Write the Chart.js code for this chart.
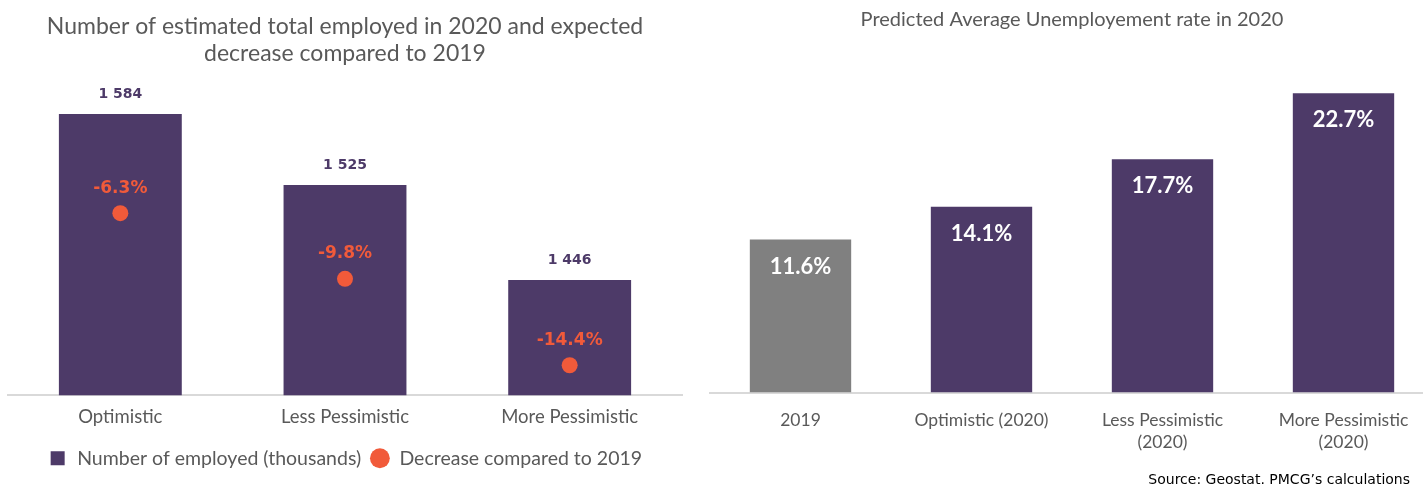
<!DOCTYPE html>
<html>
<head>
<meta charset="utf-8">
<script src="https://cdn.jsdelivr.net/npm/chart.js@4/dist/chart.umd.min.js"></script>
<style>
  html, body { margin: 0; padding: 0; background: #fff; overflow: hidden; width: 1423px; height: 485px; }
  #leftWrap { position: absolute; left: 0; top: 0; width: 700px; height: 485px; }
  #rightWrap { position: absolute; left: 700px; top: 0; width: 740px; height: 485px; }
  #source { position: absolute; right: 13px; top: 471px; font: 14px "DejaVu Sans", sans-serif; color: #000; }
</style>
</head>
<body>
<div id="leftWrap"><canvas id="leftChart" width="700" height="485"></canvas></div>
<div id="rightWrap"><canvas id="rightChart" width="740" height="485"></canvas></div>
<div id="source">Source: Geostat. PMCG’s calculations</div>
<script>
const leftCategories = ['Optimistic', 'Less Pessimistic', 'More Pessimistic'];
const employed = [1584, 1525, 1446];
const decrease = [-6.3, -9.8, -14.4];

const rightCategories = ['2019', 'Optimistic (2020)', ['Less Pessimistic', '(2020)'], ['More Pessimistic', '(2020)']];
const unemployment = [11.6, 14.1, 17.7, 22.7];

const purple = '#4d3a68';
const orange = '#f15a3a';
const grey = '#808080';
const textGrey = '#595959';
const axisGrey = '#d9d9d9';

// draws value labels next to the marks, no datalabels plugin available offline
const valueLabels = {
    id: 'valueLabels',
    afterDatasetsDraw(chart, args, opts) {
        const ctx = chart.ctx;
        (opts.items || []).forEach(item => {
            const meta = chart.getDatasetMeta(item.dataset);
            const data = chart.data.datasets[item.dataset].data;
            ctx.save();
            ctx.font = item.font;
            ctx.fillStyle = item.color;
            ctx.textAlign = 'center';
            ctx.textBaseline = 'middle';
            meta.data.forEach((el, i) => {
                ctx.fillText(item.format(data[i]), el.x, el.y + item.offset);
            });
            ctx.restore();
        });
    }
};

const fmtThousands = v => String(v).replace(/\B(?=(\d{3})+(?!\d))/g, ' ');

new Chart(document.getElementById('leftChart'), {
    data: {
        labels: leftCategories,
        datasets: [
            {
                type: 'line',
                label: 'Decrease compared to 2019',
                data: decrease,
                yAxisID: 'y1',
                showLine: false,
                pointRadius: 8,
                pointHoverRadius: 8,
                pointBackgroundColor: orange,
                pointBorderWidth: 0,
                borderColor: orange,
                backgroundColor: orange,
                pointStyle: 'circle',
                order: 0
            },
            {
                type: 'bar',
                label: 'Number of employed (thousands)',
                data: employed,
                yAxisID: 'y',
                backgroundColor: purple,
                borderWidth: 0,
                barPercentage: 0.547,
                categoryPercentage: 1,
                pointStyle: 'rect',
                order: 1
            }
        ]
    },
    options: {
        responsive: false,
        animation: false,
        devicePixelRatio: 1,
        layout: { padding: { left: 8, right: 18, top: 0, bottom: 7 } },
        plugins: {
            title: {
                display: true,
                text: ['Number of estimated total employed in 2020 and expected', 'decrease compared to 2019'],
                color: textGrey,
                font: { family: 'Lato', size: 23, weight: 'normal', lineHeight: 1.17 },
                padding: { top: 13, bottom: 28 }
            },
            legend: {
                position: 'bottom',
                reverse: true,
                labels: {
                    usePointStyle: true,
                    boxHeight: 14,
                    color: textGrey,
                    font: { family: 'Lato', size: 19.5 },
                    padding: 9
                }
            },
            tooltip: { enabled: false },
            valueLabels: {
                items: [
                    { dataset: 1, format: fmtThousands, color: purple, font: 'bold 14px "DejaVu Sans"', offset: -20 },
                    { dataset: 0, format: v => v.toFixed(1) + '%', color: orange, font: 'bold 17px "DejaVu Sans"', offset: -25 }
                ]
            }
        },
        scales: {
            x: {
                grid: { display: false, drawTicks: false },
                border: { display: true, color: axisGrey, width: 2 },
                ticks: { color: textGrey, font: { family: 'Lato', size: 18.5 }, padding: 11, maxRotation: 0 }
            },
            y: { display: false, min: 1350, max: 1600 },
            y1: { display: false, min: -16, max: 0 }
        }
    },
    plugins: [valueLabels]
});

new Chart(document.getElementById('rightChart'), {
    type: 'bar',
    data: {
        labels: rightCategories,
        datasets: [{
            label: 'Unemployment rate',
            data: unemployment,
            backgroundColor: [grey, purple, purple, purple],
            borderWidth: 0,
            barPercentage: 0.56,
            categoryPercentage: 1
        }]
    },
    options: {
        responsive: false,
        animation: false,
        devicePixelRatio: 1,
        layout: { padding: { left: 10, right: 6, top: 0, bottom: 15 } },
        plugins: {
            title: {
                display: true,
                text: 'Predicted Average Unemployement rate in 2020',
                color: textGrey,
                font: { family: 'Lato', size: 20, weight: 'normal', lineHeight: 1.4 },
                padding: { top: 6, bottom: 29 }
            },
            legend: { display: false },
            tooltip: { enabled: false },
            valueLabels: {
                items: [
                    { dataset: 0, format: v => v.toFixed(1) + '%', color: '#ffffff', font: 'bold 22px Lato', offset: 27 }
                ]
            }
        },
        scales: {
            x: {
                grid: { display: false, drawTicks: false },
                border: { display: true, color: axisGrey, width: 2 },
                ticks: { color: textGrey, font: { family: 'Lato', size: 17.5, lineHeight: 1.3 }, padding: 16, maxRotation: 0 }
            },
            y: { display: false, min: 0, max: 25 }
        }
    },
    plugins: [valueLabels]
});
</script>
</body>
</html>
